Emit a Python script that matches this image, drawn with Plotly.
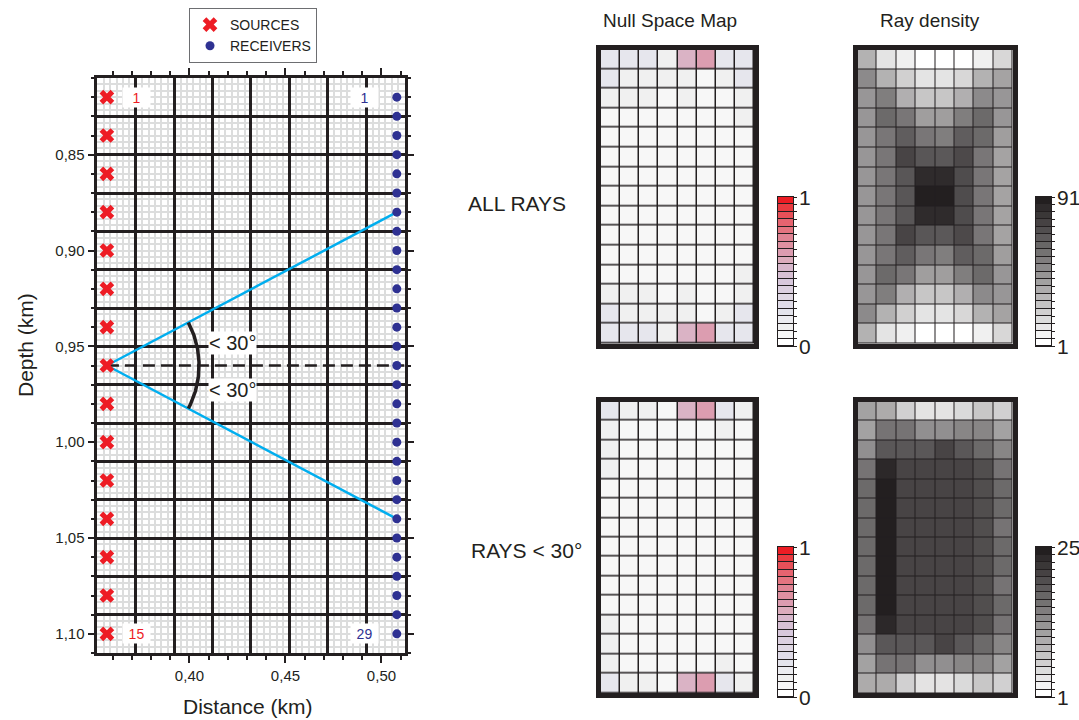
import numpy as np
import plotly.graph_objects as go

W, H = 1079, 720
INK = "#231f20"
RED = "#ed1c24"
NAVY = "#2e3192"
CYAN = "#00aeef"
FINE = "#dcdddd"
FONT = "Liberation Sans, Arial, Helvetica, sans-serif"

# ---------------- acquisition geometry (km) ----------------
source_x = 0.357
source_depth = [0.82, 0.84, 0.86, 0.88, 0.90, 0.92, 0.94, 0.96,
                0.98, 1.00, 1.02, 1.04, 1.06, 1.08, 1.10]
receiver_x = 0.508
receiver_depth = [0.82, 0.83, 0.84, 0.85, 0.86, 0.87, 0.88, 0.89, 0.90, 0.91,
                  0.92, 0.93, 0.94, 0.95, 0.96, 0.97, 0.98, 0.99, 1.00, 1.01,
                  1.02, 1.03, 1.04, 1.05, 1.06, 1.07, 1.08, 1.09, 1.10]

# inversion cells: start, end, size (km) and fine sub-grid per cell
cell_x = (0.352, 0.512, 0.02)
cell_z = (0.81, 1.11, 0.02)
fine_split = 6

# example rays bounding the aperture
ray_source = 7
ray_receivers = [6, 22]
angle_limit = 30
arc_radius = 0.048

# ---------------- tomography results (15 rows x 8 columns) ----------------
null_all = [
    [0.20, 0.20, 0.20, 0.11, 0.55, 0.63, 0.20, 0.20],
    [0.20, 0.11, 0.11, 0.11, 0.11, 0.05, 0.11, 0.20],
    [0.11, 0.11, 0.11, 0.05, 0.11, 0.05, 0.05, 0.11],
    [0.05, 0.05, 0.05, 0.05, 0.05, 0.05, 0.05, 0.11],
    [0.05, 0.05, 0.05, 0.05, 0.05, 0.05, 0.05, 0.05],
    [0.05, 0.05, 0.05, 0.05, 0.05, 0.05, 0.05, 0.05],
    [0.05, 0.05, 0.05, 0.05, 0.05, 0.05, 0.05, 0.05],
    [0.05, 0.05, 0.05, 0.05, 0.05, 0.05, 0.05, 0.05],
    [0.05, 0.05, 0.05, 0.05, 0.05, 0.05, 0.05, 0.05],
    [0.05, 0.05, 0.05, 0.05, 0.05, 0.05, 0.05, 0.05],
    [0.05, 0.05, 0.05, 0.05, 0.05, 0.05, 0.05, 0.05],
    [0.05, 0.05, 0.05, 0.05, 0.05, 0.05, 0.05, 0.11],
    [0.11, 0.11, 0.11, 0.05, 0.11, 0.05, 0.05, 0.11],
    [0.20, 0.11, 0.11, 0.11, 0.11, 0.05, 0.11, 0.20],
    [0.20, 0.20, 0.20, 0.11, 0.55, 0.63, 0.20, 0.20],
]
null_30 = [
    [0.20, 0.11, 0.11, 0.05, 0.55, 0.63, 0.20, 0.11],
    [0.11, 0.05, 0.05, 0.05, 0.05, 0.05, 0.11, 0.05],
    [0.11, 0.05, 0.05, 0.05, 0.05, 0.05, 0.05, 0.05],
    [0.11, 0.05, 0.05, 0.05, 0.05, 0.05, 0.05, 0.05],
    [0.05, 0.05, 0.05, 0.05, 0.05, 0.05, 0.05, 0.05],
    [0.05, 0.05, 0.05, 0.05, 0.05, 0.05, 0.05, 0.05],
    [0.05, 0.05, 0.05, 0.05, 0.05, 0.05, 0.05, 0.05],
    [0.05, 0.05, 0.05, 0.05, 0.05, 0.05, 0.05, 0.05],
    [0.05, 0.05, 0.05, 0.05, 0.05, 0.05, 0.05, 0.05],
    [0.05, 0.05, 0.05, 0.05, 0.05, 0.05, 0.05, 0.05],
    [0.05, 0.05, 0.05, 0.05, 0.05, 0.05, 0.05, 0.05],
    [0.11, 0.05, 0.05, 0.05, 0.05, 0.05, 0.05, 0.05],
    [0.11, 0.05, 0.05, 0.05, 0.05, 0.05, 0.05, 0.05],
    [0.11, 0.05, 0.05, 0.05, 0.05, 0.05, 0.11, 0.05],
    [0.20, 0.11, 0.11, 0.05, 0.55, 0.63, 0.20, 0.11],
]
rays_all = [
    [32, 12, 7, 1, 1, 1, 7, 17],
    [48, 32, 20, 12, 12, 17, 32, 38],
    [43, 53, 33, 24, 24, 33, 48, 43],
    [43, 61, 56, 40, 40, 53, 61, 43],
    [43, 56, 66, 56, 53, 66, 61, 40],
    [43, 56, 76, 69, 68, 74, 56, 38],
    [43, 56, 69, 86, 86, 73, 56, 38],
    [43, 56, 69, 91, 91, 73, 56, 38],
    [43, 56, 69, 86, 86, 73, 56, 38],
    [43, 56, 76, 69, 68, 74, 56, 38],
    [43, 56, 66, 56, 53, 66, 61, 40],
    [43, 61, 56, 40, 40, 53, 61, 43],
    [43, 53, 33, 24, 24, 33, 48, 43],
    [48, 32, 20, 12, 12, 17, 32, 38],
    [32, 12, 7, 1, 1, 1, 7, 17],
]
rays_30 = [
    [11, 10, 6, 4, 4, 5, 7, 6],
    [11, 16, 16, 13, 13, 14, 14, 11],
    [13, 19, 19, 19, 21, 19, 17, 14],
    [16, 24, 21, 21, 21, 21, 20, 16],
    [17, 25, 21, 21, 21, 21, 20, 17],
    [17, 25, 21, 21, 21, 21, 20, 17],
    [17, 25, 21, 21, 21, 21, 20, 16],
    [17, 25, 21, 21, 21, 21, 20, 17],
    [17, 25, 21, 21, 21, 21, 20, 17],
    [17, 25, 21, 21, 21, 21, 20, 16],
    [17, 25, 21, 21, 21, 21, 20, 17],
    [16, 24, 21, 21, 21, 21, 20, 16],
    [13, 19, 19, 19, 21, 19, 17, 14],
    [11, 16, 16, 13, 13, 14, 14, 11],
    [10, 10, 6, 4, 4, 5, 7, 6],
]
null_range = (0, 1)
rays_all_range = (1, 91)
rays_30_range = (1, 25)
n_levels = 20

null_scale = [
    [0.000, "#ffffff"], [0.053, "#f7f7f7"], [0.105, "#f0f0f0"], [0.158, "#ececf0"],
    [0.210, "#e4e4ec"], [0.263, "#e0dce8"], [0.316, "#e0d8e4"], [0.368, "#dcd0e0"],
    [0.421, "#d8c8dc"], [0.474, "#d8c0d4"], [0.526, "#d8b8cc"], [0.579, "#dcacbc"],
    [0.632, "#dc9cb0"], [0.684, "#de90a0"], [0.737, "#e08494"], [0.790, "#e47480"],
    [0.842, "#e66470"], [0.895, "#e85058"], [0.947, "#ea3a40"], [1.000, "#ec1c24"],
]
gray_scale = [[0, "#ffffff"], [1, INK]]


def px_x(a, b):
    return [a / W, b / W]


def px_y(top, bottom):
    return [1 - bottom / H, 1 - top / H]


fig = go.Figure()

# ---------------- left panel: survey layout ----------------
z_src = source_depth[ray_source]
for k in ray_receivers:
    fig.add_trace(go.Scatter(
        x=[source_x, receiver_x], y=[z_src, receiver_depth[k]], mode="lines",
        line=dict(color=CYAN, width=2.5), showlegend=False, hoverinfo="skip"))

fig.add_trace(go.Scatter(
    x=[source_x, cell_x[1]], y=[z_src, z_src], mode="lines",
    line=dict(color=INK, width=2.5, dash="12px,6px"),
    showlegend=False, hoverinfo="skip"))

ang = [np.arctan2(receiver_depth[k] - z_src, receiver_x - source_x) for k in ray_receivers]
theta = np.linspace(min(ang), max(ang), 80)
fig.add_trace(go.Scatter(
    x=source_x + arc_radius * np.cos(theta), y=z_src + arc_radius * np.sin(theta),
    mode="lines", line=dict(color=INK, width=3.5), showlegend=False, hoverinfo="skip"))

fig.add_trace(go.Scatter(
    x=[source_x] * len(source_depth), y=source_depth, mode="markers", name="SOURCES",
    marker=dict(symbol="x", size=13, color=RED, line=dict(width=0)),
    cliponaxis=False, hoverinfo="skip"))
fig.add_trace(go.Scatter(
    x=[receiver_x] * len(receiver_depth), y=receiver_depth, mode="markers", name="RECEIVERS",
    marker=dict(symbol="circle", size=9, color=NAVY, line=dict(width=0)),
    cliponaxis=False, hoverinfo="skip"))

# empty traces that hold the tick-bearing overlay axes
fig.add_trace(go.Scatter(x=[None], y=[None], xaxis="x2", yaxis="y",
                         showlegend=False, hoverinfo="skip"))
fig.add_trace(go.Scatter(x=[None], y=[None], xaxis="x", yaxis="y2",
                         showlegend=False, hoverinfo="skip"))

# ---------------- right panels: maps and colour bars ----------------
NULL_X = px_x(601, 754)
RAY_X = px_x(857.5, 1012.5)
TOP_Y = px_y(49.5, 343.5)
BOT_Y = px_y(401.5, 693)
NCB_X = px_x(778, 793)
RCB_X = px_x(1036, 1051)
TOPCB_Y = px_y(197, 346)
BOTCB_Y = px_y(547, 697)

panels = [
    (3, null_all, null_scale, null_range, NULL_X, TOP_Y, 1.5),
    (4, rays_all, gray_scale, rays_all_range, RAY_X, TOP_Y, 1.0),
    (5, null_30, null_scale, null_range, NULL_X, BOT_Y, 1.5),
    (6, rays_30, gray_scale, rays_30_range, RAY_X, BOT_Y, 1.0),
]
bars = [
    (7, null_scale, null_range, NCB_X, TOPCB_Y),
    (8, gray_scale, rays_all_range, RCB_X, TOPCB_Y),
    (9, null_scale, null_range, NCB_X, BOTCB_Y),
    (10, gray_scale, rays_30_range, RCB_X, BOTCB_Y),
]

layout_axes = {}
shapes = []
for idx, z, scale, (zmin, zmax), dx, dy, gap in panels:
    fig.add_trace(go.Heatmap(
        z=z, colorscale=scale, zmin=zmin, zmax=zmax, showscale=False,
        xgap=gap, ygap=gap, xaxis=f"x{idx}", yaxis=f"y{idx}", hoverinfo="skip"))
    nrow, ncol = len(z), len(z[0])
    layout_axes[f"xaxis{idx}"] = dict(
        domain=dx, anchor=f"y{idx}", range=[-0.5, ncol - 0.5], showgrid=False,
        zeroline=False, showticklabels=False, ticks="", showline=True, mirror=True,
        linewidth=5, linecolor=INK, fixedrange=True)
    layout_axes[f"yaxis{idx}"] = dict(
        domain=dy, anchor=f"x{idx}", range=[nrow - 0.5, -0.5], showgrid=False,
        zeroline=False, showticklabels=False, ticks="", showline=True, mirror=True,
        linewidth=5, linecolor=INK, fixedrange=True)
    shapes.append(dict(type="rect", xref=f"x{idx} domain", yref=f"y{idx} domain",
                       x0=0, x1=1, y0=0, y1=1, fillcolor=INK, line=dict(width=0),
                       layer="below"))

annotations = []
for idx, scale, (zmin, zmax), dx, dy in bars:
    levels = np.linspace(zmin, zmax, n_levels)
    fig.add_trace(go.Heatmap(
        z=[[v] for v in levels], colorscale=scale, zmin=zmin, zmax=zmax,
        showscale=False, ygap=1, xaxis=f"x{idx}", yaxis=f"y{idx}", hoverinfo="skip"))
    layout_axes[f"xaxis{idx}"] = dict(
        domain=dx, anchor=f"y{idx}", range=[-0.5, 0.5], showgrid=False, zeroline=False,
        showticklabels=False, ticks="", showline=True, mirror=True, linewidth=1,
        linecolor=INK, fixedrange=True)
    layout_axes[f"yaxis{idx}"] = dict(
        domain=dy, anchor=f"x{idx}", range=[-0.5, n_levels - 0.5], showgrid=False,
        zeroline=False, showticklabels=False, side="right", ticks="outside",
        tickvals=[i - 0.5 for i in range(n_levels + 1)], ticklen=3, tickwidth=1,
        tickcolor=INK, showline=True, mirror=True, linewidth=1, linecolor=INK,
        fixedrange=True)
    shapes.append(dict(type="rect", xref=f"x{idx} domain", yref=f"y{idx} domain",
                       x0=0, x1=1, y0=0, y1=1, fillcolor=INK, line=dict(width=0),
                       layer="below"))
    for val, yy in ((zmax, dy[1]), (zmin, dy[0])):
        annotations.append(dict(
            text=f"{val:g}", xref="paper", yref="paper", x=dx[1] + 4 / W, y=yy,
            xanchor="left", yanchor="middle", showarrow=False,
            font=dict(size=21, color=INK, family=FONT)))


# ---------------- text ----------------
def paper_text(text, x, y, size, **kw):
    annotations.append(dict(text=text, xref="paper", yref="paper", x=x / W, y=1 - y / H,
                            xanchor="center", yanchor="middle", showarrow=False,
                            font=dict(size=size, color=INK, family=FONT), **kw))


paper_text("Null Space Map", 670, 20, 19)
paper_text("Ray density", 930, 20, 19)
paper_text("ALL RAYS", 517, 203, 21)
paper_text("RAYS < 30°", 526, 550, 21)
paper_text("Distance (km)", 248, 706, 21)
paper_text("Depth (km)", 25, 345, 21, textangle=-90)

for txt, y_lab in ((f"< {angle_limit}°", 0.9482), (f"< {angle_limit}°", 0.9728)):
    annotations.append(dict(text=txt, x=0.4222, y=y_lab, xref="x", yref="y",
                            showarrow=False, bgcolor="white", borderpad=0,
                            font=dict(size=20, color=INK, family=FONT)))

end_labels = [
    ("1", 0.3724, source_depth[0], RED),
    (f"{len(source_depth)}", 0.3724, source_depth[-1], RED),
    ("1", 0.4914, receiver_depth[0], NAVY),
    (f"{len(receiver_depth)}", 0.4914, receiver_depth[-1], NAVY),
]
for txt, xx, yy, col in end_labels:
    annotations.append(dict(text=txt, x=xx, y=yy, xref="x", yref="y", showarrow=False,
                            bgcolor="white", width=27, height=19, borderpad=0,
                            font=dict(size=14, color=col, family=FONT)))

LEFT_X = px_x(97.3, 404.5)
LEFT_Y = px_y(78, 653)

fig.update_layout(
    width=W, height=H, autosize=False,
    margin=dict(l=0, r=0, t=0, b=0),
    paper_bgcolor="white", plot_bgcolor="white",
    separators=",.",
    font=dict(family=FONT, color=INK),
    showlegend=True,
    legend=dict(x=189 / W, y=1 - 8 / H, xanchor="left", yanchor="top",
                bgcolor="white", bordercolor="#6d6e71", borderwidth=1,
                font=dict(size=14, color=INK, family=FONT),
                itemclick=False, tracegroupgap=0),
    xaxis=dict(
        domain=LEFT_X, anchor="y", range=[cell_x[0], cell_x[1]],
        showgrid=True, gridcolor=INK, gridwidth=2.5, tick0=cell_x[0], dtick=cell_x[2],
        ticks="", showticklabels=False, zeroline=False, showline=False,
        minor=dict(tick0=cell_x[0], dtick=cell_x[2] / fine_split, showgrid=True,
                   gridcolor=FINE, gridwidth=2, ticks=""),
        fixedrange=True),
    yaxis=dict(
        domain=LEFT_Y, anchor="x", range=[cell_z[1], cell_z[0]],
        showgrid=True, gridcolor=INK, gridwidth=2.5, tick0=cell_z[0], dtick=cell_z[2],
        ticks="", showticklabels=False, zeroline=False, showline=False,
        minor=dict(tick0=cell_z[0], dtick=cell_z[2] / fine_split, showgrid=True,
                   gridcolor=FINE, gridwidth=2, ticks=""),
        fixedrange=True),
    xaxis2=dict(
        overlaying="x", anchor="y", side="bottom", range=[cell_x[0], cell_x[1]],
        showgrid=False, zeroline=False, tick0=0, dtick=0.05, tickformat=".2f",
        ticks="outside", ticklen=7, tickwidth=2, tickcolor=INK,
        tickfont=dict(size=15, color=INK, family=FONT),
        minor=dict(tick0=0, dtick=0.01, ticks="outside", ticklen=4, tickwidth=2,
                   tickcolor=INK, showgrid=False),
        showline=True, linewidth=2.5, linecolor=INK, mirror="ticks", fixedrange=True),
    yaxis2=dict(
        overlaying="y", anchor="x", side="left", range=[cell_z[1], cell_z[0]],
        showgrid=False, zeroline=False, tick0=0, dtick=0.05, tickformat=".2f",
        ticks="outside", ticklen=7, tickwidth=2, tickcolor=INK,
        tickfont=dict(size=15, color=INK, family=FONT),
        minor=dict(tick0=0, dtick=0.01, ticks="outside", ticklen=4, tickwidth=2,
                   tickcolor=INK, showgrid=False),
        showline=True, linewidth=2.5, linecolor=INK, mirror="ticks", fixedrange=True),
    shapes=shapes,
    annotations=annotations,
)
fig.update_layout(**layout_axes)

fig.write_html("out.html")
